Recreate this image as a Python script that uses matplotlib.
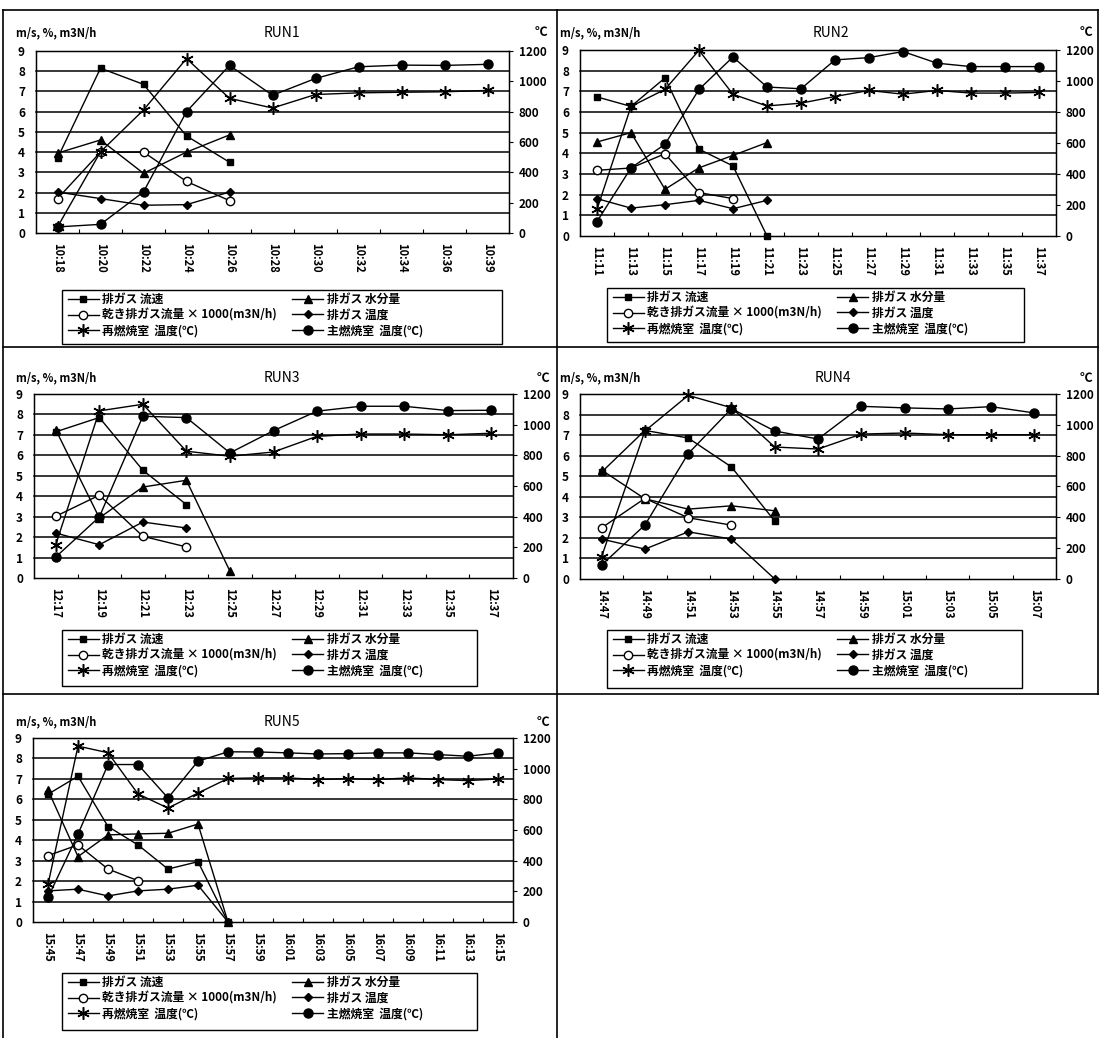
import matplotlib
matplotlib.use('Agg')
import matplotlib.pyplot as plt
from matplotlib.lines import Line2D
from matplotlib.patches import Rectangle
import numpy as np

plt.rcParams['font.family'] = ['Noto Sans CJK JP', 'DejaVu Sans']

# ---------------- data ----------------
run1_times = ['10:18', '10:20', '10:22', '10:24', '10:26', '10:28', '10:30', '10:32', '10:34', '10:36', '10:39']
run1_flow = [3.7, 8.15, 7.35, 4.8, 3.5]
run1_moist = [3.95, 4.6, 2.95, 4.0, 4.85]
run1_dry = [1.7, 4.0, 4.0, 2.55, 1.6]
run1_gas_t = [270, 227, 183, 187, 270]
run1_re_t = [40, 535, 811, 1150, 888, 824, 913, 924, 928, 931, 940]
run1_main_t = [40, 57, 271, 800, 1105, 908, 1019, 1096, 1107, 1105, 1112]

run2_times = ['11:11', '11:13', '11:15', '11:17', '11:19', '11:21', '11:23', '11:25', '11:27', '11:29', '11:31', '11:33', '11:35', '11:37']
run2_flow = [6.73, 6.27, 7.65, 4.2, 3.39, 0]
run2_moist = [4.55, 5.0, 2.26, 3.3, 3.9, 4.52]
run2_dry = [3.18, 3.29, 3.98, 2.1, 1.81]
run2_gas_t = [241, 180, 202, 230, 176, 230]
run2_re_t = [172, 836, 946, 1198, 914, 839, 857, 900, 939, 915, 939, 922, 922, 926]
run2_main_t = [93, 439, 592, 946, 1155, 961, 950, 1136, 1151, 1190, 1115, 1093, 1093, 1093]

run3_times = ['12:17', '12:19', '12:21', '12:23', '12:25', '12:27', '12:29', '12:31', '12:33', '12:35', '12:37']
run3_flow = [7.15, 7.85, 5.27, 3.59]
run3_moist = [7.25, 2.94, 4.45, 4.78, 0.33]
run3_dry = [3.02, 4.05, 2.04, 1.52]
run3_gas_t = [293, 217, 365, 326]
run3_re_t = [217, 1090, 1133, 827, 794, 822, 924, 939, 939, 934, 944]
run3_main_t = [137, 398, 1055, 1046, 816, 961, 1088, 1120, 1120, 1092, 1094]

run4_times = ['14:47', '14:49', '14:51', '14:53', '14:55', '14:57', '14:59', '15:01', '15:03', '15:05', '15:07']
run4_flow = [5.2, 7.23, 6.86, 5.45, 2.82]
run4_moist = [5.3, 3.9, 3.4, 3.56, 3.32]
run4_dry = [2.49, 3.92, 2.98, 2.62]
run4_gas_t = [259, 194, 306, 259, 0]
run4_re_t = [145, 960, 1191, 1111, 856, 843, 940, 947, 936, 936, 936]
run4_main_t = [91, 350, 813, 1105, 960, 908, 1120, 1110, 1103, 1118, 1077]

run5_times = ['15:45', '15:47', '15:49', '15:51', '15:53', '15:55', '15:57', '15:59', '16:01', '16:03', '16:05', '16:07', '16:09', '16:11', '16:13', '16:15']
run5_flow = [6.25, 7.13, 4.67, 3.77, 2.59, 2.95, 0]
run5_moist = [6.45, 3.2, 4.26, 4.31, 4.34, 4.79, 0]
run5_dry = [3.25, 3.77, 2.59, 2.02]
run5_gas_t = [203, 214, 170, 203, 214, 240, 0]
run5_re_t = [245, 1147, 1104, 835, 743, 841, 936, 940, 940, 929, 935, 929, 940, 929, 922, 933]
run5_main_t = [160, 573, 1027, 1027, 809, 1049, 1110, 1109, 1103, 1096, 1098, 1103, 1103, 1092, 1081, 1103]

run_titles = ['RUN1', 'RUN2', 'RUN3', 'RUN4', 'RUN5']
series_labels = ['排ガス 流速', '排ガス 水分量', '乾き排ガス流量 × 1000(m3N/h)',
                 '排ガス 温度', '再燃焼室  温度(℃)', '主燃焼室  温度(℃)']
left_unit = 'm/s, %, m3N/h'
right_unit = '℃'

runs = [
    (run1_times, run1_flow, run1_moist, run1_dry, run1_gas_t, run1_re_t, run1_main_t),
    (run2_times, run2_flow, run2_moist, run2_dry, run2_gas_t, run2_re_t, run2_main_t),
    (run3_times, run3_flow, run3_moist, run3_dry, run3_gas_t, run3_re_t, run3_main_t),
    (run4_times, run4_flow, run4_moist, run4_dry, run4_gas_t, run4_re_t, run4_main_t),
    (run5_times, run5_flow, run5_moist, run5_dry, run5_gas_t, run5_re_t, run5_main_t),
]

# ---------------- layout (pixels) ----------------
W, H = 1100, 1038
fig = plt.figure(figsize=(W / 100, H / 100), dpi=100)


def fx(x):
    return x / W


def fy(y):
    return 1 - y / H


# plot boxes: left, top, right, bottom
plot_boxes = [(36, 51, 509, 233), (580, 50, 1056, 236), (34, 394, 513, 578),
              (580, 394, 1056, 579), (33, 738, 513, 922)]
title_pos = [(282, 33), (831, 33), (282, 378), (833, 378), (282, 722)]
unit_l_pos = [(16, 33), (560, 33), (16, 378), (560, 378), (16, 722)]
unit_r_pos = [(541, 33), (1086, 33), (543, 378), (1086, 378), (543, 722)]
legend_boxes = [(62, 290, 502, 344), (607, 288, 1024, 342), (62, 630, 477, 686),
                (607, 630, 1022, 688), (62, 973, 477, 1030)]

asterisk = (6, 2, 0)
styles = [
    dict(marker='s', ms=5, mfc='black', mec='black'),
    dict(marker='^', ms=6, mfc='black', mec='black'),
    dict(marker='o', ms=6, mfc='white', mec='black', mew=1),
    dict(marker='D', ms=4, mfc='black', mec='black'),
    dict(marker=asterisk, ms=9, mfc='black', mec='black', mew=1.1),
    dict(marker='o', ms=6.5, mfc='black', mec='black'),
]

for i, run in enumerate(runs):
    times, flow, moist, dry, gas_t, re_t, main_t = run
    l, t, r, b = plot_boxes[i]
    ax = fig.add_axes([fx(l), fy(b), (r - l) / W, (b - t) / H])
    n = len(times)
    ax.set_xlim(-0.5, n - 0.5)
    ax.set_ylim(0, 9)
    for v in range(1, 9):
        ax.axhline(v, color='black', lw=1.1, zorder=0.5)
    ax.set_yticks(range(10))
    ax.set_yticklabels([str(v) for v in range(10)], fontsize=8.5, fontweight='bold')
    ax.tick_params(axis='y', length=0, pad=8)
    ax.set_xticks(range(n))
    ax.set_xticklabels(times, rotation=-90, fontsize=8, fontweight='bold')
    ax.tick_params(axis='x', which='major', length=0, pad=7)
    ax.set_xticks(np.arange(0.5, n - 1, 1), minor=True)
    ax.tick_params(axis='x', which='minor', direction='in', length=3, width=0.8)
    for sp in ax.spines.values():
        sp.set_linewidth(1.0)
        sp.set_color('black')

    ax2 = ax.twinx()
    ax2.set_ylim(0, 1200)
    ax2.set_yticks(range(0, 1201, 200))
    ax2.set_yticklabels([str(v) for v in range(0, 1201, 200)], fontsize=8.5, fontweight='bold')
    ax2.tick_params(axis='y', length=3, width=0.8, pad=4)

    handles = []
    h, = ax.plot(range(len(flow)), flow, color='black', lw=1, **styles[0])
    handles.append(h)
    h, = ax.plot(range(len(moist)), moist, color='black', lw=1, **styles[1])
    handles.append(h)
    h, = ax.plot(range(len(dry)), dry, color='black', lw=1, **styles[2])
    handles.append(h)
    h, = ax2.plot(range(len(gas_t)), gas_t, color='black', lw=1, **styles[3])
    handles.append(h)
    h, = ax2.plot(range(len(re_t)), re_t, color='black', lw=1, **styles[4])
    handles.append(h)
    h, = ax2.plot(range(len(main_t)), main_t, color='black', lw=1, **styles[5])
    handles.append(h)
    for a in (ax, ax2):
        for ln in a.get_lines():
            ln.set_clip_on(False)

    tx, ty = title_pos[i]
    fig.text(fx(tx), fy(ty), run_titles[i], ha='center', va='center', fontsize=10)
    ux, uy = unit_l_pos[i]
    fig.text(fx(ux), fy(uy), left_unit, ha='left', va='center', fontsize=8, fontweight='bold')
    rx, ry = unit_r_pos[i]
    fig.text(fx(rx), fy(ry), right_unit, ha='center', va='center', fontsize=9, fontweight='bold')

    x0, y0, x1, y1 = legend_boxes[i]
    fig.add_artist(Rectangle((fx(x0), fy(y1)), (x1 - x0) / W, (y1 - y0) / H,
                             transform=fig.transFigure, fill=False, edgecolor='black', lw=1.0))
    order = [0, 2, 4, 1, 3, 5]
    leg = fig.legend([handles[k] for k in order], [series_labels[k] for k in order],
                     loc='upper left', bbox_to_anchor=(fx(x0 + 6), fy(y0 + 3)),
                     bbox_transform=fig.transFigure, ncol=2, frameon=False,
                     borderaxespad=0, borderpad=0,
                     handlelength=2.6, handletextpad=0.3, labelspacing=0.22,
                     columnspacing=1.3, prop={'weight': 'bold', 'size': 8.5})

# table borders
border_segs = [
    ([3, 1098], [10, 10]),
    ([3, 1098], [347, 347]),
    ([3, 1098], [694, 694]),
    ([3, 3], [10, 1038]),
    ([557, 557], [10, 1038]),
    ([1098, 1098], [10, 694]),
]
for xs, ys in border_segs:
    fig.add_artist(Line2D([fx(v) for v in xs], [fy(v) for v in ys], color='black', lw=1.2,
                          transform=fig.transFigure))

fig.savefig('out.png', dpi=100)
